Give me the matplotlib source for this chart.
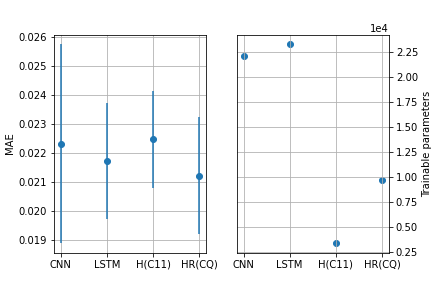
import matplotlib
matplotlib.use("Agg")
import matplotlib.pyplot as plt

models = ["CNN", "LSTM", "H(C11)", "HR(CQ)"]
mae_mean = [0.02233, 0.02174, 0.02247, 0.02123]
mae_err = [0.00341, 0.00200, 0.00168, 0.00200]
params = [22130, 23300, 3450, 9700]

fig, (ax1, ax2) = plt.subplots(1, 2, figsize=(6, 4), dpi=72)
fig.subplots_adjust(left=0.125, right=0.9, bottom=0.123, top=0.88, wspace=0.2)

ax1.errorbar(models, mae_mean, yerr=mae_err, fmt="o")
ax1.set_ylabel("MAE")
ax1.grid(True)

ax2.scatter(models, params)
ax2.yaxis.tick_right()
ax2.yaxis.set_label_position("right")
ax2.set_ylabel("Trainable parameters")
ax2.ticklabel_format(axis="y", style="sci", scilimits=(0, 0))
ax2.grid(True)

plt.savefig("out.png", dpi=72)
